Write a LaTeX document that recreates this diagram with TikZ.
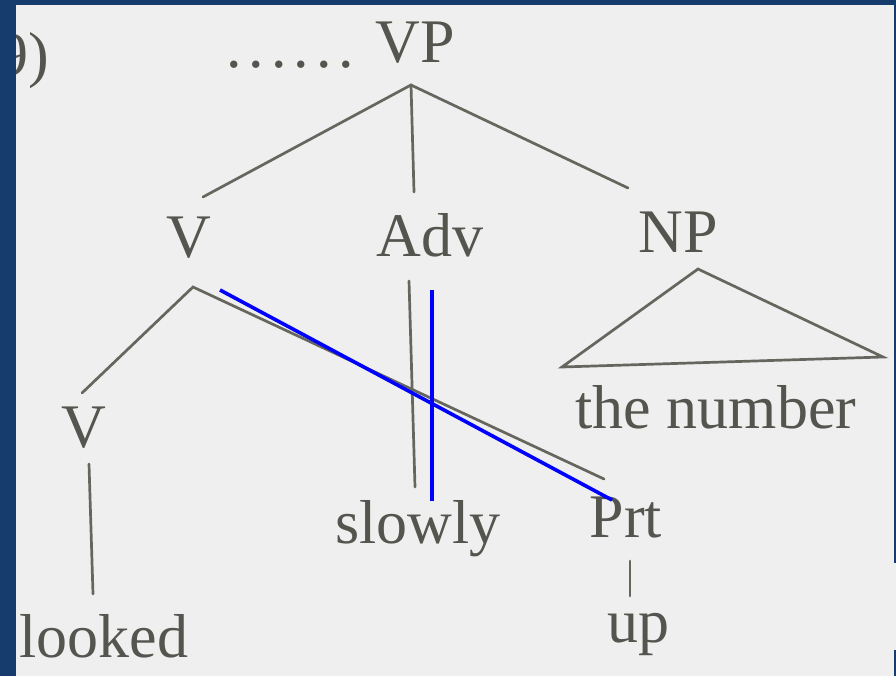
\documentclass[tikz,border=0pt]{standalone}
\usepackage{fontspec}
\setmainfont{Liberation Serif}
\definecolor{navy}{HTML}{163C6E}
\definecolor{page}{HTML}{EFEFEF}
\definecolor{ink}{HTML}{55554F}
\definecolor{rule}{HTML}{66665F}
\begin{document}
\begin{tikzpicture}[x=1pt,y=-1pt,
  lbl/.style={inner sep=0pt,anchor=base,text=ink,font=\fontsize{62}{70}\selectfont},
  edge/.style={draw=rule,line width=2.7pt,line cap=round},
  blueline/.style={draw=blue,line width=3.6pt}]
\useasboundingbox (0,0) rectangle (896,676);
\fill[navy] (0,0) rectangle (896,676);
\fill[page] (16,5) rectangle (894,676);
\fill[page] (894,563) rectangle (896,650);
\begin{scope}
\clip (16,5) rectangle (894,676);
\node[lbl,anchor=base west] (num) at (-3,76) {9)};
\end{scope}
% labels
\node[lbl,anchor=base east] (VP) at (455,63) {VP};
\node[lbl,anchor=base west] (dots) at (226,68) {.\kern7pt.\kern7pt.\kern7pt.\kern7pt.\kern7pt.};
\node[lbl] (V1) at (189,258) {V};
\node[lbl] (Adv) at (430,257) {Adv};
\node[lbl] (NP) at (678,252) {NP};
\node[lbl] (V2) at (84,447) {V};
\node[lbl] (looked) at (104,657) {looked};
\node[lbl] (slowly) at (418,543) {slowly};
\node[lbl] (Prt) at (626,537) {Prt};
\node[lbl] (up) at (638,642) {up};
\node[lbl] (thenumber) at (716,428) {the number};
% connector ends
\coordinate (VPtop) at (411,85);
\coordinate (V1in) at (203,197);
\coordinate (Advin) at (414,192);
\coordinate (NPin) at (628,188);
\coordinate (V1out) at (193,287);
\coordinate (V2in) at (82,393);
\coordinate (Prtin) at (604,479);
\coordinate (V2out) at (89,464);
\coordinate (lookedin) at (93,594);
\coordinate (Advout) at (409,281);
\coordinate (slowlyin) at (415,487);
\coordinate (Prtout) at (630,561);
\coordinate (upin) at (630,596);
\coordinate (tA) at (698,269);
\coordinate (tL) at (562,367);
\coordinate (tR) at (883,357);
% edges
\draw[edge] (V1in) -- (VPtop) -- (NPin);
\draw[edge] (VPtop) -- (Advin);
\draw[edge] (V2in) -- (V1out) -- (Prtin);
\draw[edge] (V2out) -- (lookedin);
\draw[edge] (Advout) -- (slowlyin);
\draw[edge] (Prtout) -- (upin);
\draw[edge,line join=miter] (tA) -- (tL) -- (tR) -- cycle;
% blue marks
\coordinate (b1) at (220,290);
\coordinate (b2) at (612,500);
\coordinate (b3) at (432,290);
\coordinate (b4) at (432,501);
\draw[blueline] (b1) -- (b2);
\draw[blueline] (b3) -- (b4);
\end{tikzpicture}
\end{document}
